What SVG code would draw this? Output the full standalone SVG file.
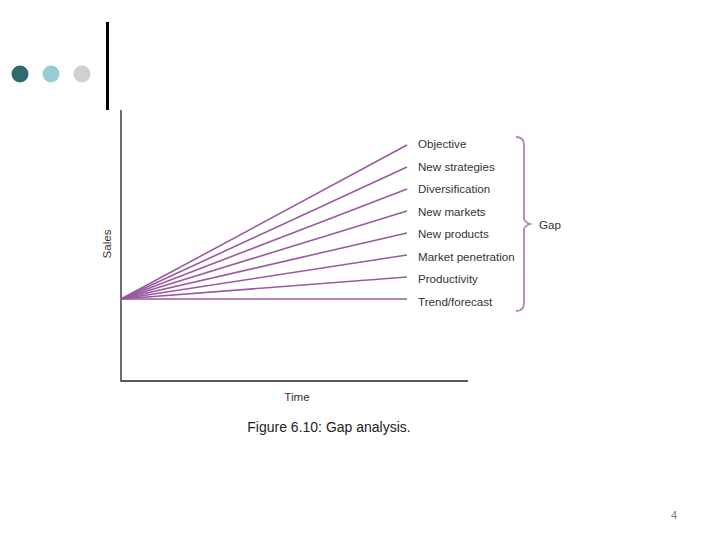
<svg xmlns="http://www.w3.org/2000/svg" width="720" height="540" viewBox="0 0 720 540">
<style>
.lbl{font-family:"Liberation Sans",Arial,sans-serif;font-size:11.6px;fill:#333}
.ax{stroke:#222;stroke-width:1.3;fill:none}
.ln{stroke:#9a5aa0;stroke-width:1.6;fill:none}
</style>
<rect width="720" height="540" fill="#fff"/>
<g id="decor">
<circle cx="20" cy="74" r="8.5" fill="#2f6a6c"/>
<circle cx="51" cy="74" r="8.5" fill="#98ccd4"/>
<circle cx="82" cy="74" r="8.5" fill="#d0d0d0"/>
<rect x="106" y="22" width="3" height="88" fill="#000"/>
</g>
<g id="axes">
<path class="ax" d="M121,110 V381 H468"/>
<text class="lbl" transform="translate(111,244) rotate(-90)" text-anchor="middle">Sales</text>
<text class="lbl" x="297" y="401" text-anchor="middle">Time</text>
</g>
<g id="connectors">
<line class="ln" x1="121" y1="299" x2="407" y2="145"/>
<line class="ln" x1="121" y1="299" x2="407" y2="167"/>
<line class="ln" x1="121" y1="299" x2="407" y2="189"/>
<line class="ln" x1="121" y1="299" x2="407" y2="211"/>
<line class="ln" x1="121" y1="299" x2="407" y2="233"/>
<line class="ln" x1="121" y1="299" x2="407" y2="255"/>
<line class="ln" x1="121" y1="299" x2="407" y2="277"/>
<line class="ln" x1="121" y1="299" x2="407" y2="299"/>
</g>
<g id="labels">
<text class="lbl" x="418" y="148">Objective</text>
<text class="lbl" x="418" y="171">New strategies</text>
<text class="lbl" x="418" y="193">Diversification</text>
<text class="lbl" x="418" y="216">New markets</text>
<text class="lbl" x="418" y="238">New products</text>
<text class="lbl" x="418" y="261">Market penetration</text>
<text class="lbl" x="418" y="283">Productivity</text>
<text class="lbl" x="418" y="306">Trend/forecast</text>
</g>
<g id="gap">
<path d="M516,137 Q524,137 524,145 V218 Q524,222 530,224 Q524,226 524,230 V303 Q524,311 516,311" fill="none" stroke="#b088b8" stroke-width="1.8"/>
<text class="lbl" x="539" y="229">Gap</text>
</g>
<g id="caption">
<text x="329" y="432" text-anchor="middle" font-family="'Liberation Sans',Arial,sans-serif" font-size="14" fill="#222">Figure 6.10: Gap analysis.</text>
<text x="674" y="519" text-anchor="middle" font-family="'Liberation Sans',Arial,sans-serif" font-size="11" fill="#777">4</text>
</g>
</svg>
